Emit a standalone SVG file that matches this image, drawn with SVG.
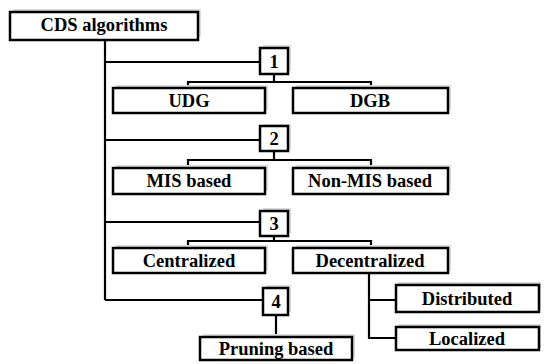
<svg xmlns="http://www.w3.org/2000/svg" width="544" height="364" viewBox="0 0 544 364">
<style>
.box{fill:#fff;stroke:#000;stroke-width:2.5}
.sh{fill:#dcdcdc}
.ln{fill:none;stroke:#000;stroke-width:2.2}
.t{font-family:'Liberation Serif','Times New Roman',serif;font-weight:bold;font-size:18.5px;text-anchor:middle;fill:#000}
</style>
<rect width="544" height="364" fill="#fff"/>
<g id="connectors">
<path class="ln" d="M105 40V300"/>
<path class="ln" d="M105 62H260M105 140H260M105 222H260M105 300H264"/>
<path class="ln" d="M274 74V82M188 88V82H371V88"/>
<path class="ln" d="M274 151V160M188 168V160H371V168"/>
<path class="ln" d="M274 236V241M188 248V241H371V248"/>
<path class="ln" d="M276 315V337"/>
<path class="ln" d="M369 273V338H396M369 300H396"/>
</g>
<g id="n-cds"><rect class="sh" x="13" y="9" width="188" height="28"/><rect class="box" x="10" y="12" width="188" height="28"/><text class="t" x="104" y="31">CDS algorithms</text></g>
<g id="n-1"><rect class="sh" x="263" y="45" width="28" height="26"/><rect class="box" x="260" y="48" width="28" height="26"/><text class="t" x="274" y="68">1</text></g>
<g id="n-udg"><rect class="sh" x="116" y="85" width="152" height="25"/><rect class="box" x="113" y="88" width="152" height="25"/><text class="t" x="189" y="107">UDG</text></g>
<g id="n-dgb"><rect class="sh" x="296" y="85" width="155" height="25"/><rect class="box" x="293" y="88" width="155" height="25"/><text class="t" x="370" y="107">DGB</text></g>
<g id="n-2"><rect class="sh" x="263" y="124" width="28" height="26"/><rect class="box" x="260" y="126" width="28" height="25"/><text class="t" x="274" y="145">2</text></g>
<g id="n-mis"><rect class="sh" x="116" y="165" width="152" height="26"/><rect class="box" x="113" y="168" width="152" height="26"/><text class="t" x="189" y="187">MIS based</text></g>
<g id="n-nonmis"><rect class="sh" x="296" y="165" width="155" height="26"/><rect class="box" x="293" y="168" width="155" height="26"/><text class="t" x="370" y="187">Non-MIS based</text></g>
<g id="n-3"><rect class="sh" x="263" y="208" width="28" height="25"/><rect class="box" x="260" y="211" width="28" height="25"/><text class="t" x="274" y="230">3</text></g>
<g id="n-central"><rect class="sh" x="116" y="245" width="152" height="26"/><rect class="box" x="113" y="248" width="152" height="25"/><text class="t" x="189" y="267">Centralized</text></g>
<g id="n-decentral"><rect class="sh" x="296" y="245" width="155" height="26"/><rect class="box" x="293" y="248" width="155" height="25"/><text class="t" x="370" y="267">Decentralized</text></g>
<g id="n-4"><rect class="sh" x="266" y="285" width="25" height="27"/><rect class="box" x="263" y="288" width="25" height="27"/><text class="t" x="276" y="308">4</text></g>
<g id="n-pruning"><rect class="sh" x="203" y="334" width="152" height="24"/><rect class="box" x="200" y="337" width="152" height="23"/><text class="t" x="276" y="355">Pruning based</text></g>
<g id="n-distributed"><rect class="sh" x="398" y="282" width="143" height="27"/><rect class="box" x="396" y="285" width="143" height="27"/><text class="t" x="467" y="305">Distributed</text></g>
<g id="n-localized"><rect class="sh" x="398" y="324" width="143" height="24"/><rect class="box" x="396" y="327" width="143" height="23"/><text class="t" x="467" y="345">Localized</text></g>
</svg>
